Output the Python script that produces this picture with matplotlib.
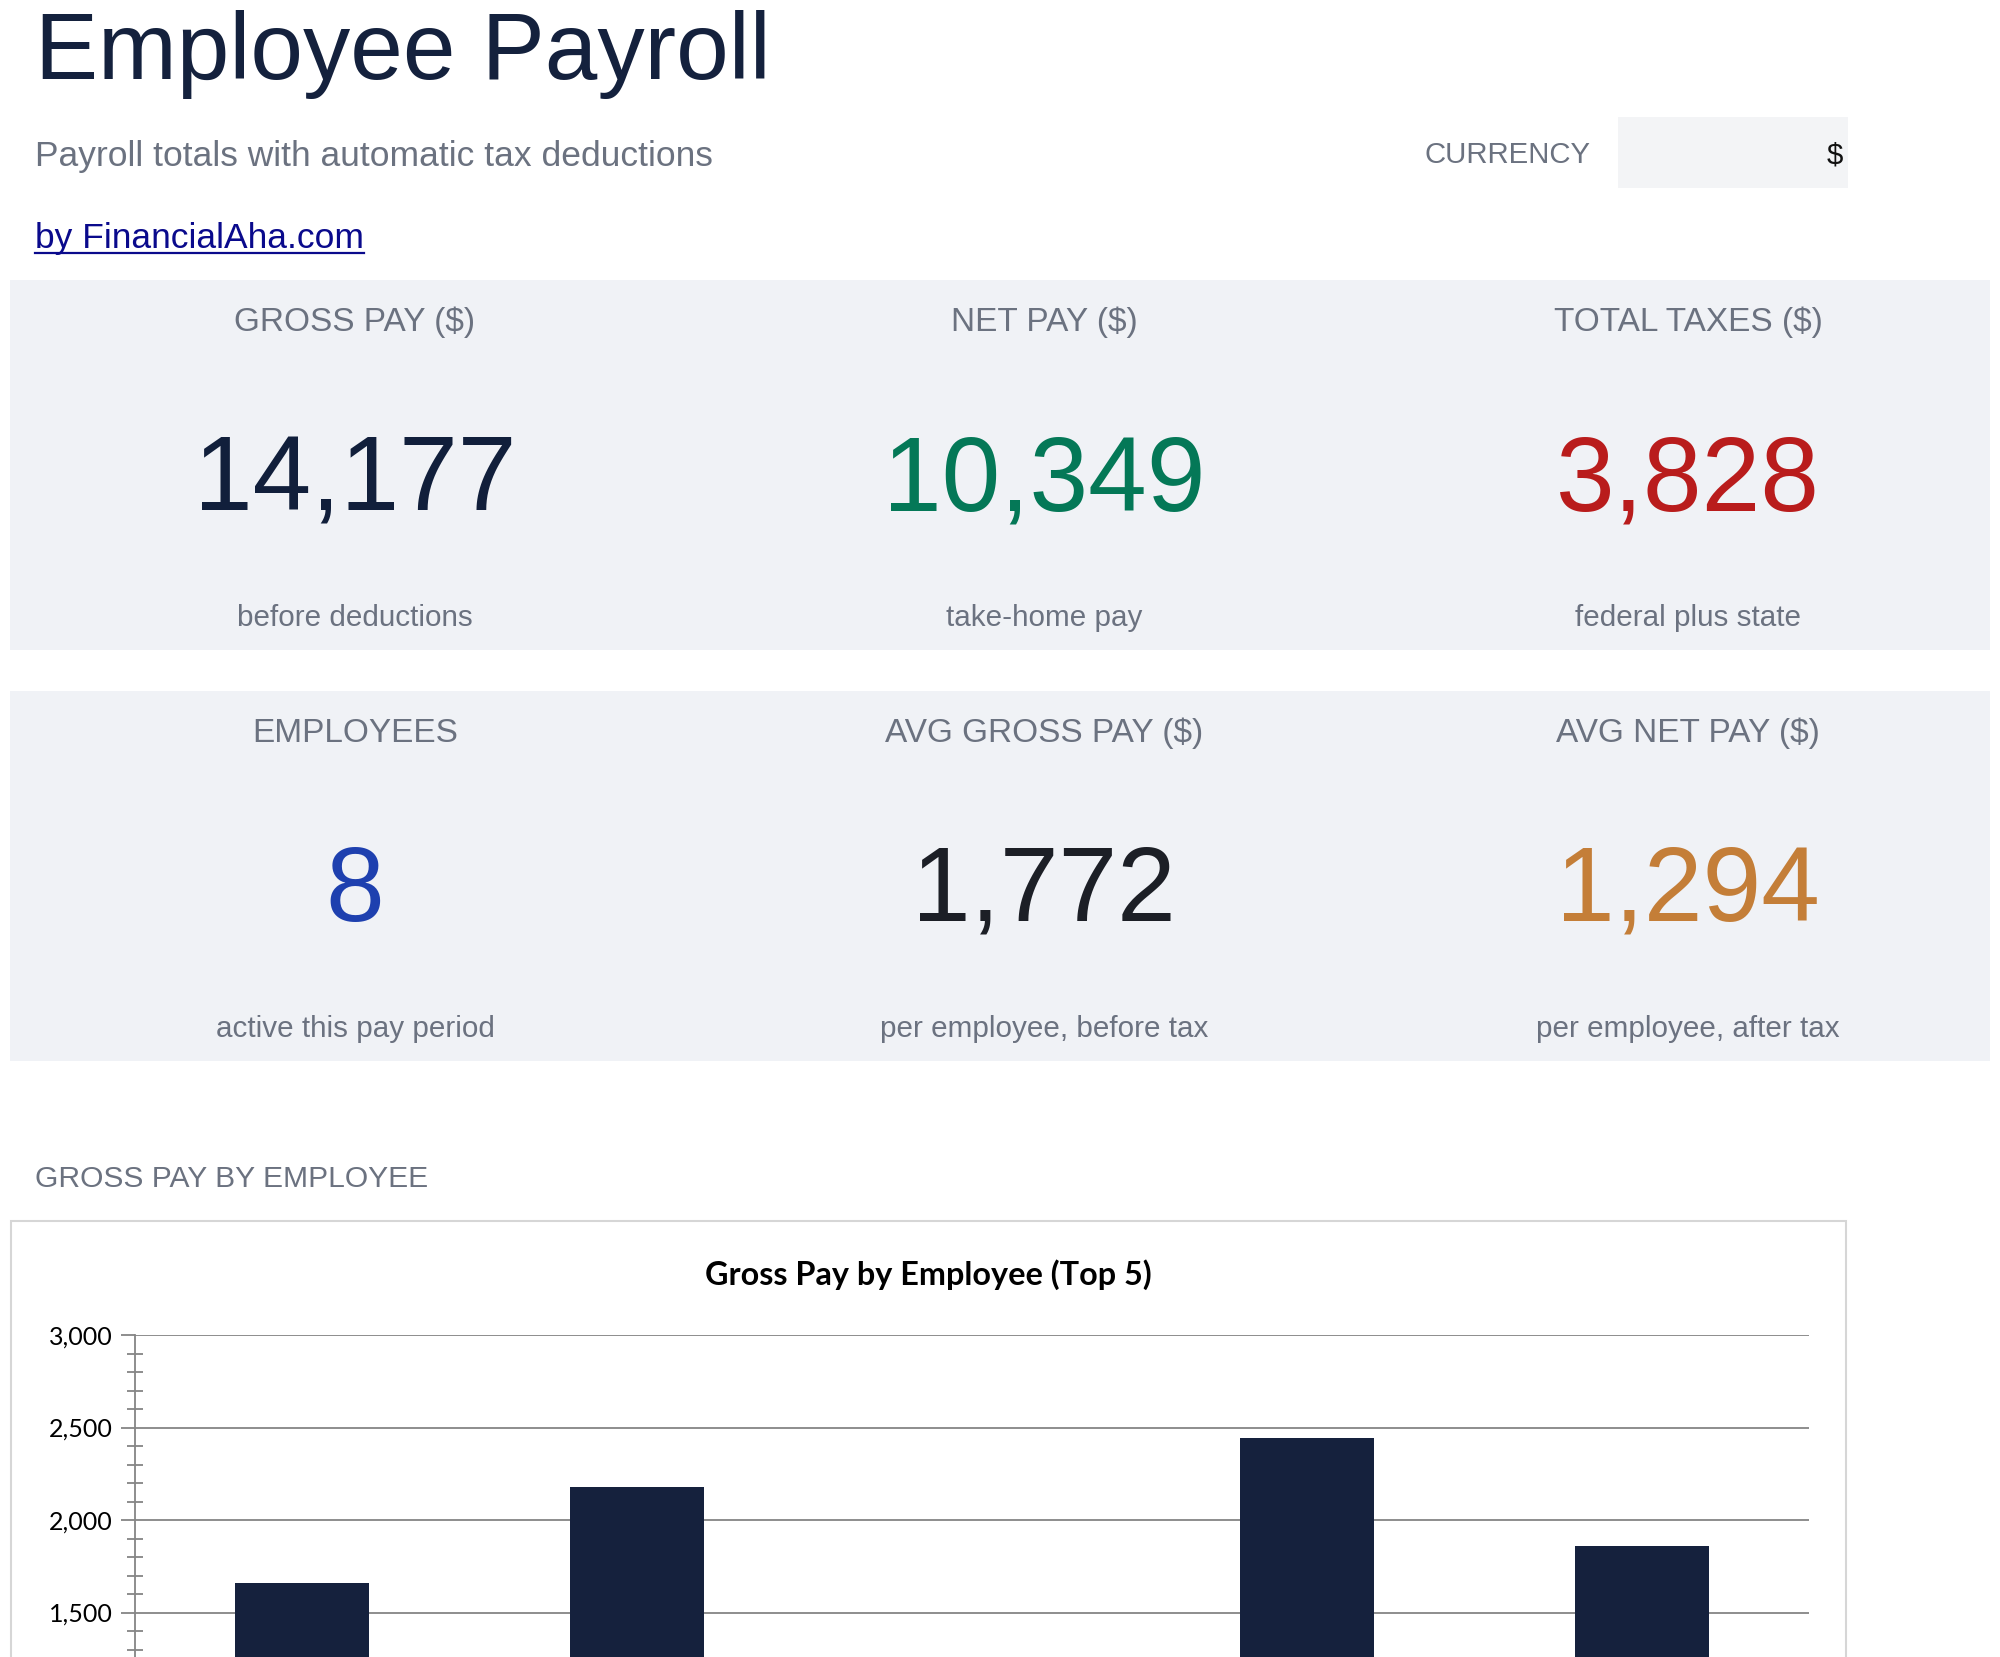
import matplotlib
matplotlib.use("Agg")
import matplotlib.pyplot as plt
from matplotlib.patches import Rectangle
from matplotlib.lines import Line2D
from matplotlib.ticker import MultipleLocator, FixedLocator, FuncFormatter

# ---------------- data ----------------
title = "Employee Payroll"
subtitle = "Payroll totals with automatic tax deductions"
link_text = "by FinancialAha.com"
currency_label = "CURRENCY"
currency_value = "$"

kpi_row1_labels = ["GROSS PAY ($)", "NET PAY ($)", "TOTAL TAXES ($)"]
kpi_row1_values = ["14,177", "10,349", "3,828"]
kpi_row1_notes = ["before deductions", "take-home pay", "federal plus state"]
kpi_row1_colors = ["#111f3b", "#047857", "#b91c1c"]

kpi_row2_labels = ["EMPLOYEES", "AVG GROSS PAY ($)", "AVG NET PAY ($)"]
kpi_row2_values = ["8", "1,772", "1,294"]
kpi_row2_notes = ["active this pay period", "per employee, before tax", "per employee, after tax"]
kpi_row2_colors = ["#1e40af", "#1c1f26", "#c47e38"]

section_label = "GROSS PAY BY EMPLOYEE"
chart_title = "Gross Pay by Employee (Top 5)"
employees = ["Employee 1", "Employee 2", "Employee 3", "Employee 4", "Employee 5"]
gross_pay = [1662, 2180, 1150, 2443, 1860]
y_ticks = [1500, 2000, 2500, 3000]

# ---------------- layout helpers ----------------
W, H = 2000, 1657
fig = plt.figure(figsize=(W / 100, H / 100), dpi=100)
fig.patch.set_facecolor("white")

SANS = ["Liberation Sans", "DejaVu Sans"]
CHART_FONT = ["Lato", "DejaVu Sans"]
GRAY = "#6b7280"
NAVY = "#14213d"
PANEL = "#f0f2f6"


def fx(x):
    return x / W


def fy(y):
    return 1 - y / H


def txt(x, y, s, size, color, ha="left", weight="normal", family=SANS):
    return fig.text(fx(x), fy(y), s, fontsize=size, color=color, ha=ha,
                    va="baseline", fontweight=weight, family=family)


def rect(x0, y0, x1, y1, fc, ec="none", lw=0, z=0):
    fig.patches.append(Rectangle((fx(x0), fy(y1)), fx(x1) - fx(x0), fy(y0) - fy(y1),
                                 transform=fig.transFigure, facecolor=fc,
                                 edgecolor=ec, linewidth=lw, zorder=z))


# ---------------- header ----------------
txt(35, 79, title, 68, NAVY)
txt(35, 166, subtitle, 25.5, GRAY)
link = txt(35, 248, link_text, 25.5, "#0a0a8c")

txt(1591, 163, currency_label, 21.2, GRAY, ha="right")
rect(1618, 117, 1848, 188, "#f3f4f6")
txt(1843, 163, currency_value, 21.2, "#111111", ha="right")

# ---------------- KPI panels ----------------
col_centers = [355, 1044, 1688]
rows = [
    (280, kpi_row1_labels, kpi_row1_values, kpi_row1_notes, kpi_row1_colors),
    (691, kpi_row2_labels, kpi_row2_values, kpi_row2_notes, kpi_row2_colors),
]
for top, labels, values, notes, colors in rows:
    rect(10, top, 1990, top + 370, PANEL)
    for cx, lab, val, note, col in zip(col_centers, labels, values, notes, colors):
        txt(cx, top + 51, lab, 24, GRAY, ha="center")
        txt(cx, top + 230, val, 76, col, ha="center")
        txt(cx, top + 346, note, 21.3, GRAY, ha="center")

# ---------------- chart section ----------------
txt(35, 1187, section_label, 21.6, GRAY)
rect(11, 1221, 1846, 1700, "white", ec="#d6d6d6", lw=1.5, z=0.5)
fig.text(fx(928), fy(1285), chart_title, fontsize=23.3, fontweight="bold",
         color="black", ha="center", va="baseline", family=CHART_FONT)

ax_left, ax_right = 135, 1809
ax_top = 1335
ymax, ymin = 3000, 0
px_per_unit = 92.5 / 500
ax_bottom = ax_top + (ymax - ymin) * px_per_unit
ax = fig.add_axes([fx(ax_left), fy(ax_bottom), fx(ax_right) - fx(ax_left),
                   (ax_bottom - ax_top) / H])
ax.set_facecolor("none")
ax.set_zorder(1)
x = list(range(len(employees)))
ax.bar(x, gross_pay, width=0.4, color="#15213d", zorder=3)
ax.set_xlim(-0.5, len(employees) - 0.5)
ax.set_ylim(ymin, ymax)
ax.set_xticks(x)
ax.set_xticklabels(employees)
ax.tick_params(axis="x", length=0, labelbottom=False)
ax.yaxis.set_major_locator(FixedLocator(y_ticks))
ax.yaxis.set_minor_locator(MultipleLocator(100))
ax.yaxis.set_major_formatter(FuncFormatter(lambda v, p: f"{int(v):,}"))
ax.grid(axis="y", which="major", color="#858585", linewidth=1.3, zorder=1)
ax.set_axisbelow(True)
for s in ["top", "right", "bottom"]:
    ax.spines[s].set_visible(False)
ax.spines["left"].set_color("#858585")
ax.spines["left"].set_linewidth(1.3)
ax.tick_params(axis="y", which="major", direction="out", length=10, width=1.3,
               color="#858585", pad=6, labelsize=18)
ax.tick_params(axis="y", which="minor", direction="inout", length=12, width=1.3,
               color="#858585")
for lab in ax.get_yticklabels():
    lab.set_family(CHART_FONT)
    lab.set_color("black")

# underline for link
renderer = fig.canvas.get_renderer()
bb = link.get_window_extent(renderer=renderer)
fig.add_artist(Line2D([bb.x0 / W, bb.x1 / W], [fy(253), fy(253)],
                      transform=fig.transFigure, color="#0a0a8c", linewidth=1.6))

fig.savefig("out.png", dpi=100, facecolor="white")
